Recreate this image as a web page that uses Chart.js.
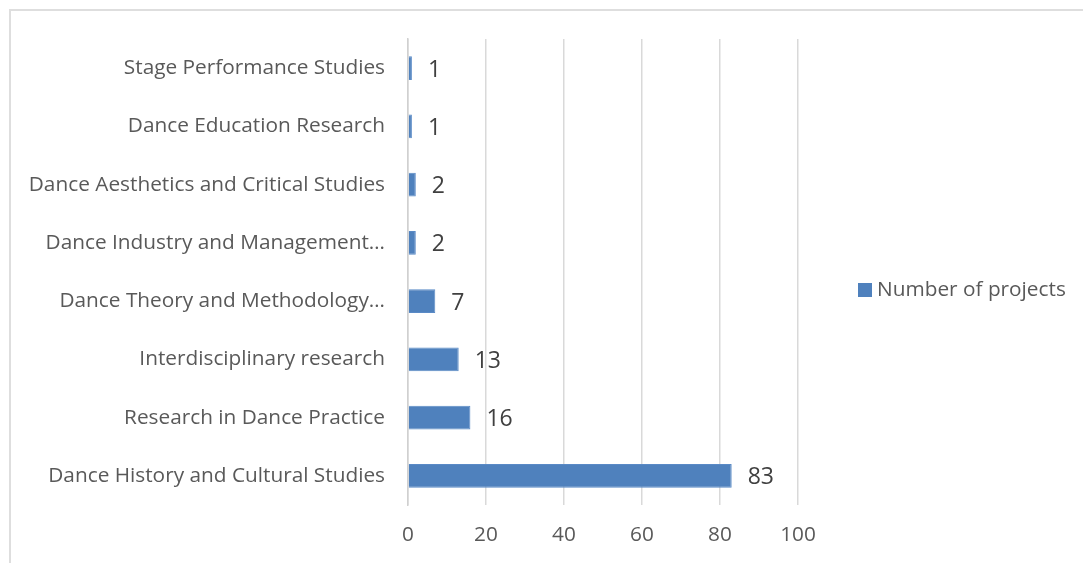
<!DOCTYPE html>
<html>
<head>
<meta charset="utf-8">
<script src="https://cdn.jsdelivr.net/npm/chart.js@4.4.0/dist/chart.umd.min.js"></script>
<style>
  html, body { margin: 0; padding: 0; background: #fff; overflow: hidden; }
  #frame { position: absolute; left: 9px; top: 9px; width: 1200px; height: 700px; border: 2px solid #dedede; box-sizing: border-box; }
  #wrap { position: absolute; left: 0; top: 0; width: 1083px; height: 563px; }
</style>
</head>
<body>
<div id="frame"></div>
<div id="wrap"><canvas id="c" width="1083" height="563"></canvas></div>
<script>
const categories = [
  "Stage Performance Studies",
  "Dance Education Research",
  "Dance Aesthetics and Critical Studies",
  "Dance Industry and Management…",
  "Dance Theory and Methodology…",
  "Interdisciplinary research",
  "Research in Dance Practice",
  "Dance History and Cultural Studies"
];
const projectCounts = [1, 1, 2, 2, 7, 13, 16, 83];
const seriesName = "Number of projects";
const xTicks = [0, 20, 40, 60, 80, 100];

const FONT = "'Open Sans', sans-serif";
const barColor = "#4f81bd";

const dataLabels = {
  id: 'dataLabels',
  afterDatasetsDraw(chart) {
    const ctx = chart.ctx;
    const meta = chart.getDatasetMeta(0);
    ctx.save();
    ctx.font = "23px " + FONT;
    ctx.fillStyle = "#404040";
    ctx.textAlign = "left";
    ctx.textBaseline = "middle";
    meta.data.forEach((bar, i) => {
      ctx.fillText(String(chart.data.datasets[0].data[i]), bar.x + 16, bar.y + 2);
    });
    ctx.restore();
  }
};

const customLegend = {
  id: 'customLegend',
  afterDraw(chart) {
    const ctx = chart.ctx;
    const ds = chart.data.datasets[0];
    const cy = (chart.chartArea.top + chart.chartArea.bottom) / 2;
    ctx.save();
    ctx.fillStyle = ds.backgroundColor;
    ctx.fillRect(858, cy + 11, 14, 14);
    ctx.font = "20.8px " + FONT;
    ctx.fillStyle = "#595959";
    ctx.textAlign = "left";
    ctx.textBaseline = "middle";
    ctx.fillText(ds.label, 877, cy + 18);
    ctx.restore();
  }
};

new Chart(document.getElementById('c'), {
  type: 'bar',
  data: {
    labels: categories,
    datasets: [{
      label: seriesName,
      data: projectCounts,
      backgroundColor: barColor,
      borderColor: "#5a8ac6",
      borderWidth: 1,
      barPercentage: 0.82,
      categoryPercentage: 0.5
    }]
  },
  options: {
    indexAxis: 'y',
    responsive: false,
    animation: false,
    devicePixelRatio: 1,
    layout: { padding: { top: 39, bottom: 18, left: 0, right: 285 } },
    plugins: { legend: { display: false }, tooltip: { enabled: false } },
    scales: {
      x: {
        min: 0, max: 100,
        afterBuildTicks(scale) { scale.ticks = xTicks.map(v => ({ value: v })); },
        afterFit(scale) { scale.height = 40; },
        grid: { color: "#d9d9d9", lineWidth: 1.5, drawTicks: false },
        border: { display: false },
        ticks: { color: "#595959", font: { family: FONT, size: 20.8 }, padding: 18 }
      },
      y: {
        afterFit(scale) { scale.width = 408; },
        grid: { display: false, drawTicks: false },
        border: { display: true, color: "#d0d0d0", width: 1.5 },
        ticks: { color: "#595959", font: { family: FONT, size: 20.8 }, padding: 23 }
      }
    }
  },
  plugins: [dataLabels, customLegend]
});
</script>
</body>
</html>
